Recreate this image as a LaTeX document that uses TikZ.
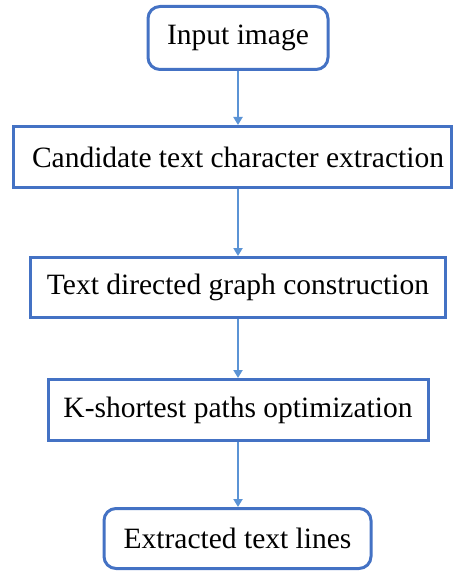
\documentclass[tikz,border=0pt]{standalone}
\usepackage{fontspec}
\setmainfont{Liberation Serif}
\usetikzlibrary{arrows.meta, positioning, calc}
\definecolor{boxblue}{RGB}{68,114,196}
\definecolor{arrowblue}{RGB}{91,147,213}

\begin{document}
\begin{tikzpicture}[x=1pt, y=-1pt,
    terminal/.style={
        rectangle, rounded corners=12pt, draw=boxblue, line width=3pt,
        fill=white, inner sep=0pt, align=center,
        font=\fontsize{29.5}{34}\selectfont
    },
    stage/.style={
        rectangle, draw=boxblue, line width=3pt,
        fill=white, inner sep=0pt, align=center,
        font=\fontsize{29.5}{34}\selectfont
    },
    flow/.style={draw=arrowblue, line width=2.2pt,
        -{Triangle[width=9pt, length=8pt]}}
]
\useasboundingbox (0,0) rectangle (453,572);

\node[terminal, minimum width=180pt, minimum height=63pt] (input)  at (238,   38)   {Input image};
\node[stage,    minimum width=438pt, minimum height=61pt] (cand)   at (232.5, 157)  {\hspace*{11pt}Candidate text character extraction};
\node[stage,    minimum width=415pt, minimum height=60pt] (graph)  at (238,   287.5){Text directed graph construction};
\node[stage,    minimum width=380pt, minimum height=61pt] (kpath)  at (238,   410)  {K-shortest paths optimization};
\node[terminal, minimum width=267pt, minimum height=60pt] (lines)  at (237.5, 538.5){Extracted text lines};

\draw[flow] (input.south) -- (input.south |- cand.north);
\draw[flow] (input.south |- cand.south) -- (graph.north);
\draw[flow] (graph.south) -- (kpath.north);
\draw[flow] (kpath.south) -- (lines.north -| kpath.south);

\end{tikzpicture}
\end{document}
